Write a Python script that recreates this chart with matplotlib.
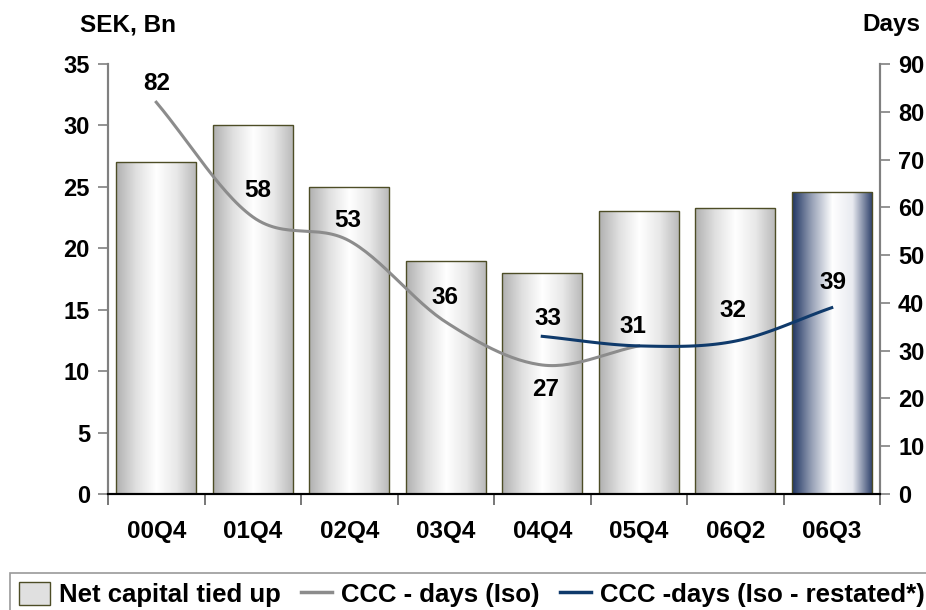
import numpy as np
import matplotlib.pyplot as plt
from matplotlib.colors import LinearSegmentedColormap
from matplotlib.patches import Rectangle
from matplotlib.lines import Line2D

plt.rcParams['font.family'] = ['Liberation Sans', 'DejaVu Sans']
plt.rcParams['font.weight'] = 'bold'

quarters = ['00Q4', '01Q4', '02Q4', '03Q4', '04Q4', '05Q4', '06Q2', '06Q3']
capital = [27, 30, 25, 19, 18, 23, 23.3, 24.6]
ccc_iso = [82, 58, 53, 36, 27, 31]              # 00Q4 .. 05Q4
ccc_restated = [33, 31, 32, 39]                 # 04Q4 .. 06Q3
iso_label_pos = [(0, 86.0), (1.05, 63.6), (1.98, 57.3), (2.99, 41.2), (4.03, 21.8), (4.94, 35)]
restated_label_pos = [(4.06, 36.8), (5.98, 38.5), (7.01, 44.2)]


def smooth(xs, ys, n=30):
    # Catmull-Rom curve through the points, like a smoothed line series
    xs = np.asarray(xs, float)
    ys = np.asarray(ys, float)
    px = np.concatenate([[2 * xs[0] - xs[1]], xs, [2 * xs[-1] - xs[-2]]])
    py = np.concatenate([[2 * ys[0] - ys[1]], ys, [2 * ys[-1] - ys[-2]]])
    outx, outy = [], []
    t = np.linspace(0, 1, n)
    for i in range(1, len(px) - 2):
        for p, out in ((px, outx), (py, outy)):
            p0, p1, p2, p3 = p[i - 1], p[i], p[i + 1], p[i + 2]
            out.extend(0.5 * (2 * p1 + (-p0 + p2) * t
                              + (2 * p0 - 5 * p1 + 4 * p2 - p3) * t ** 2
                              + (-p0 + 3 * p1 - 3 * p2 + p3) * t ** 3))
    return outx, outy


fig = plt.figure(figsize=(9.26, 6.10), dpi=100)
ax = fig.add_axes([108 / 926, 116 / 610, 772 / 926, 430 / 610])
ax2 = ax.twinx()

grey_cmap = LinearSegmentedColormap.from_list(
    'g', ['#b0b0b0', '#e0e0e0', '#ffffff', '#e8e8e8', '#b8b8b8'])
navy_cmap = LinearSegmentedColormap.from_list(
    'n', ['#1f3562', '#9aa3b8', '#ffffff', '#e8eaf0', '#2a3d68'])

x = np.arange(len(quarters))
width = 0.83
grad = np.linspace(0, 1, 256).reshape(1, -1)
for i, v in enumerate(capital):
    cmap = navy_cmap if i == len(capital) - 1 else grey_cmap
    rect = Rectangle((x[i] - width / 2, 0), width, v, facecolor='none',
                     edgecolor='#4d4d26', linewidth=1.0, zorder=3)
    ax.add_patch(rect)
    im = ax.imshow(grad, cmap=cmap, aspect='auto', zorder=2,
                   extent=(x[i] - width / 2, x[i] + width / 2, 0, v))
    im.set_clip_path(rect)

ax.set_xlim(-0.5, 7.5)
ax.set_ylim(0, 35)
ax2.set_ylim(0, 90)
ax.set_yticks(np.arange(0, 36, 5))
ax2.set_yticks(np.arange(0, 91, 10))
ax.set_xticks(x)
ax.set_xticklabels(quarters)
# category separators below the axis
ax.set_xticks(np.arange(-0.5, 8, 1), minor=True)

sx, sy = smooth(x[:len(ccc_iso)], ccc_iso)
ax2.plot(sx, sy, color='#8c8c8c', linewidth=2.2, zorder=4)
sx, sy = smooth(x[4:], ccc_restated)
ax2.plot(sx, sy, color='#0f3a6b', linewidth=2.2, zorder=4)

for v, (px, py) in zip(ccc_iso, iso_label_pos):
    ax2.text(px, py, str(v), ha='center', va='center', fontsize=17.5, fontweight='bold', zorder=5)
for v, (px, py) in zip(ccc_restated[:1] + ccc_restated[2:], restated_label_pos):
    ax2.text(px, py, str(v), ha='center', va='center', fontsize=17.5, fontweight='bold', zorder=5)

for a in (ax, ax2):
    a.spines['top'].set_visible(False)
    for s in ('left', 'right'):
        a.spines[s].set_color('#808080')
        a.spines[s].set_linewidth(1.5)
    a.spines['bottom'].set_color('#000000')
    a.spines['bottom'].set_linewidth(1.5)
    a.tick_params(axis='y', labelsize=17, length=7, width=1.2, color='#808080', pad=6)
ax.tick_params(axis='x', which='major', length=0, labelsize=17.5, pad=19)
ax.tick_params(axis='x', which='minor', length=8, width=1.2, color='#606060')
ax.patch.set_visible(False)
ax2.set_zorder(2)
ax.set_zorder(1)
for lbl in ax.get_xticklabels() + ax.get_yticklabels() + ax2.get_yticklabels():
    lbl.set_fontweight('bold')

fig.text(80 / 926, 1 - 25 / 610, 'SEK, Bn', fontsize=17.5, fontweight='bold', va='center')
fig.text(920 / 926, 1 - 25 / 610, 'Days', fontsize=17.5, fontweight='bold', va='center', ha='right')

# legend in a framed strip at the bottom
handles = [
    Rectangle((0, 0), 1, 1, facecolor='#e0e0e0', edgecolor='#4d4d26'),
    Line2D([], [], color='#8c8c8c', linewidth=2.5),
    Line2D([], [], color='#0f3a6b', linewidth=2.5),
]
leg = fig.legend(handles, ['Net capital tied up', 'CCC - days (Iso)', 'CCC -days (Iso - restated*)'],
                 loc='lower left', bbox_to_anchor=(10 / 926, -6 / 610), ncol=3,
                 prop={'size': 18.5, 'weight': 'bold'}, frameon=True, fancybox=False,
                 handlelength=1.2, handleheight=1.0, handletextpad=0.35,
                 columnspacing=0.8, borderpad=0.35, borderaxespad=0)
leg.get_frame().set_edgecolor('#808080')
leg.get_frame().set_linewidth(1.2)

fig.savefig('out.png', dpi=100)
